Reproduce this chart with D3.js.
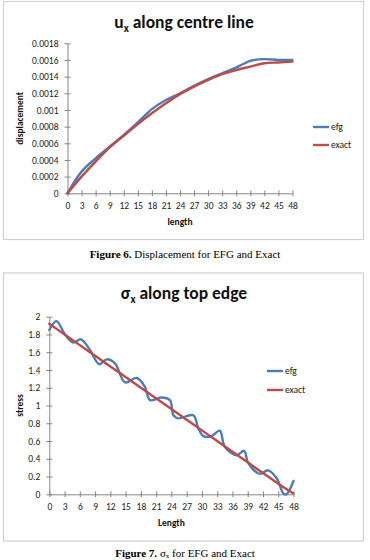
<!DOCTYPE html>
<html><head><meta charset="utf-8">
<script src="https://cdnjs.cloudflare.com/ajax/libs/d3/7.8.5/d3.min.js"></script>
<style>
body{margin:0;background:#fff;}
svg{display:block;}
</style></head>
<body>
<svg id="c" width="370" height="560"></svg>
<script>
// ---- Data ----
const xTicks = [0,3,6,9,12,15,18,21,24,27,30,33,36,39,42,45,48];
const dispX = [0,3,6,9,12,15,18,21,24,27,30,33,36,39,42,45,48];
const dispEfg = [0,0.00026,0.00042,0.00056,0.0007,0.00085,0.00101,0.00112,0.0012,0.00129,0.00137,0.00144,0.00151,0.00159,0.00161,0.0016,0.0016];
const dispExact = [0,0.0002,0.00038,0.00055,0.00069,0.00083,0.00096,0.00108,0.00119,0.00128,0.00136,0.00143,0.00148,0.00152,0.00156,0.00157,0.00158];
const dispYTicks = [0,0.0002,0.0004,0.0006,0.0008,0.001,0.0012,0.0014,0.0016,0.0018];

const stressEfgX = [0,1.4,3.1,4.7,6.2,8.0,9.8,11.3,12.9,14.9,17.2,18.8,19.8,22.0,23.7,24.4,25.3,28.3,29.3,30.3,31.9,33.5,34.5,36.8,38.3,39.1,41.4,43.0,44.7,46.0,46.6,48];
const stressEfg = [1.85,1.95,1.80,1.71,1.745,1.625,1.465,1.52,1.475,1.26,1.31,1.21,1.06,1.09,1.06,0.89,0.855,0.89,0.74,0.655,0.655,0.716,0.536,0.44,0.49,0.35,0.23,0.27,0.18,0.01,0.0,0.15];
const stressExactX = [0,3,6,9,12,15,18,21,24,27,30,33,36,39,42,45,48];
const stressExact = [1.92,1.80,1.68,1.56,1.44,1.32,1.20,1.08,0.96,0.84,0.72,0.60,0.48,0.36,0.24,0.12,0.01];
const stressYTicks = [0,0.2,0.4,0.6,0.8,1,1.2,1.4,1.6,1.8,2];

const seriesNames = ["efg","exact"];
const colors = ["#4A7EBB","#BE4B48"];

const svg = d3.select("#c");
const FONT = "Carlito, Lato, 'Liberation Sans', sans-serif";

function drawChart(o){
  const g = svg.append("g");
  g.append("rect").attr("x",o.box[0]).attr("y",o.box[1]).attr("width",o.box[2]).attr("height",o.box[3])
    .attr("fill","#fff").attr("stroke","#d0d0d0").attr("stroke-width",1.2);
  const x = d3.scaleLinear().domain([0,48]).range([o.px0,o.px1]);
  const y = d3.scaleLinear().domain([0,o.yMax]).range([o.py0,o.py1]);
  const xa = g.append("g").attr("transform",`translate(0,${o.py0})`)
    .call(d3.axisBottom(x).tickValues(xTicks).tickSize(3).tickSizeOuter(0).tickPadding(6).tickFormat(d3.format("d")));
  xa.selectAll(".tick line").attr("y1",-3).attr("y2",3);
  const ya = g.append("g").attr("transform",`translate(${o.px0},0)`)
    .call(d3.axisLeft(y).tickValues(o.yTicks).tickSize(3).tickSizeOuter(0).tickPadding(6).tickFormat(d3.format("~g")));
  ya.selectAll(".tick line").attr("x1",-3).attr("x2",3);
  [xa,ya].forEach(a=>{
    a.select(".domain").attr("stroke","#868686").attr("stroke-width",1);
    a.selectAll(".tick line").attr("stroke","#868686");
    a.selectAll("text").attr("font-family",FONT).attr("font-size",9.5).attr("fill","#222");
  });
  const lineE = d3.line().x((d)=>x(d[0])).y(d=>y(d[1])).curve(d3.curveCatmullRom.alpha(0.5));
  o.series.forEach((s,i)=>{
    g.append("path").datum(s.x.map((v,k)=>[v,s.y[k]]))
      .attr("d",lineE).attr("fill","none").attr("stroke",colors[i]).attr("stroke-width",2.4)
      .attr("stroke-linejoin","round").attr("stroke-linecap","round");
  });
  const t = g.append("text").attr("x",o.titleX).attr("y",o.titleY).attr("text-anchor","middle")
    .attr("font-family",FONT).attr("font-weight","bold").attr("font-size",17.5).attr("fill","#111");
  t.append("tspan").text(o.titleMain);
  t.append("tspan").attr("font-size",11).attr("dy",4).text("x");
  t.append("tspan").attr("dy",-4).text(o.titleRest);
  g.append("text").attr("x",(o.px0+o.px1)/2).attr("y",o.xTitleY).attr("text-anchor","middle")
    .attr("font-family",FONT).attr("font-weight","bold").attr("font-size",9.5).attr("fill","#111").text(o.xTitle);
  g.append("text").attr("transform",`translate(${o.yTitleX},${(o.py0+o.py1)/2}) rotate(-90)`).attr("text-anchor","middle")
    .attr("font-family",FONT).attr("font-weight","bold").attr("font-size",9.5).attr("fill","#111").text(o.yTitle);
  seriesNames.forEach((n,i)=>{
    const ly = o.legY[i];
    g.append("line").attr("x1",o.legX).attr("x2",o.legX+16).attr("y1",ly).attr("y2",ly)
      .attr("stroke",colors[i]).attr("stroke-width",2.4);
    g.append("text").attr("x",o.legX+18).attr("y",ly).attr("dy","0.35em")
      .attr("font-family",FONT).attr("font-size",9.5).attr("fill","#222").text(n);
  });
  const c = svg.append("text").attr("x",o.capX).attr("y",o.capY).attr("text-anchor","middle")
    .attr("font-family","'Liberation Serif', 'Times New Roman', serif").attr("font-size",11).attr("fill","#000");
  c.append("tspan").attr("font-weight","bold").text(o.capBold);
  o.capRest.forEach(p=>{
    const ts = c.append("tspan").text(p.t);
    if(p.sub){ ts.attr("font-size",7).attr("dy",1.5); }
    if(p.after){ ts.attr("dy",-1.5); }
  });
}

drawChart({
  box:[3.5,1.5,360,238], px0:67.5, px1:292.5, py0:193.3, py1:43.3, yMax:0.0018, yTicks:dispYTicks,
  series:[{x:dispX,y:dispEfg},{x:dispX,y:dispExact}],
  titleMain:"u", titleRest:" along centre line", titleX:184, titleY:28,
  xTitle:"length", xTitleY:225, yTitle:"displacement", yTitleX:23,
  legX:313, legY:[127,145],
  capX:185, capY:258, capBold:"Figure 6.", capRest:[{t:" Displacement for EFG and Exact"}]
});
drawChart({
  box:[3.5,273,360,268], px0:49.3, px1:293.5, py0:494.3, py1:316.7, yMax:2, yTicks:stressYTicks,
  series:[{x:stressEfgX,y:stressEfg},{x:stressExactX,y:stressExact}],
  titleMain:"σ", titleRest:" along top edge", titleX:184, titleY:299,
  xTitle:"Length", xTitleY:526, yTitle:"stress", yTitleX:23,
  legX:267, legY:[371,390],
  capX:185, capY:556.5, capBold:"Figure 7.", capRest:[{t:" σ"},{t:"x",sub:true},{t:" for EFG and Exact",after:true}]
});
</script>
</body></html>
